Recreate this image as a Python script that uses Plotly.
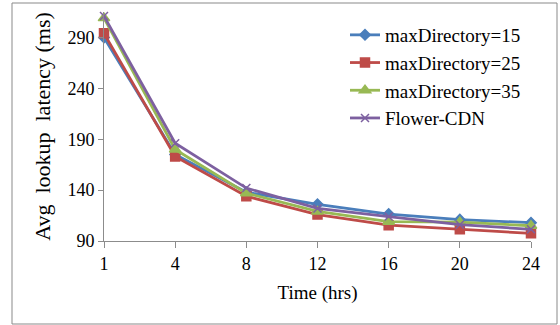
import plotly.graph_objects as go

# Average lookup latency over time for different directory sizes
hours = ["1", "4", "8", "12", "16", "20", "24"]
dir15 = [290, 175, 138, 126, 116.5, 111, 108]
dir25 = [294, 173, 134, 116, 105.5, 101.5, 97.5]
dir35 = [309, 180, 137, 119, 109, 108.5, 105]
flower_cdn = [311, 186, 142, 122, 114, 106, 101.5]

y_ticks = [90, 140, 190, 240, 290]

W, H = 560, 325
ML, MR, MT, MB = 104, 29, 12, 84
PW, PH = W - ML - MR, H - MT - MB

series = [
    ("maxDirectory=15", dir15, "#4A7EBB", "diamond", 8),
    ("maxDirectory=25", dir25, "#BE4B48", "square", 9),
    ("maxDirectory=35", dir35, "#98B954", "triangle-up", 10),
    ("Flower-CDN", flower_cdn, "#7D60A0", "x-thin-open", 8),
]

fig = go.Figure()
for name, vals, color, sym, size in series:
    fig.add_trace(go.Scatter(
        x=hours, y=vals, name=name, mode="lines+markers",
        line=dict(color=color, width=2.8),
        marker=dict(symbol=sym, size=size, color=color,
                    line=dict(color=color, width=1.5)),
        cliponaxis=False,
    ))

serif = "Liberation Serif"
axis_col = "#8c8c8c"

fig.update_layout(
    width=W, height=H,
    margin=dict(l=ML, r=MR, t=MT, b=MB),
    paper_bgcolor="white", plot_bgcolor="white",
    font=dict(family=serif, color="black", size=18),
    showlegend=True,
    legend=dict(
        x=(345 - ML) / PW, y=1 - (16 - MT) / PH,
        xanchor="left", yanchor="top",
        font=dict(family=serif, size=19, color="black"),
        bgcolor="rgba(0,0,0,0)",
        itemwidth=30, tracegroupgap=0,
    ),
    xaxis=dict(
        type="category", range=[0, 6],
        showline=True, linecolor=axis_col, linewidth=1,
        ticks="outside", ticklen=6, tickcolor=axis_col,
        showgrid=False, zeroline=False,
        tickfont=dict(family=serif, size=18),
        title=dict(text="Time (hrs)", font=dict(family=serif, size=19), standoff=13),
    ),
    yaxis=dict(
        range=[90, 315], tickvals=y_ticks,
        showline=True, linecolor=axis_col, linewidth=1,
        ticks="outside", ticklen=5, tickcolor=axis_col,
        showgrid=False, zeroline=False,
        tickfont=dict(family=serif, size=18),
        title=dict(text="Avg  lookup  latency (ms)", font=dict(family=serif, size=22), standoff=10),
    ),
)

# Outer chart frame
fig.add_shape(
    type="rect", xref="paper", yref="paper",
    x0=(12 - ML) / PW, x1=(557 - ML) / PW,
    y0=1 - (324 - MT) / PH, y1=1 - (3 - MT) / PH,
    line=dict(color="#898989", width=1), fillcolor="rgba(0,0,0,0)",
    layer="below",
)

fig.write_html("out.html")
